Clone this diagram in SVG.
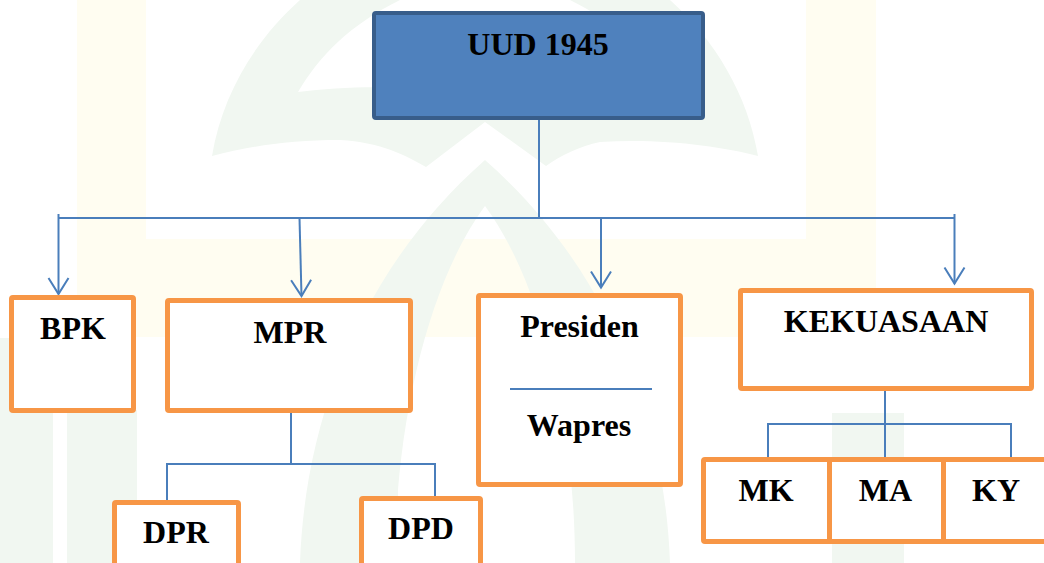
<svg xmlns="http://www.w3.org/2000/svg" width="1044" height="563" viewBox="0 0 1044 563">
<style>
.box{fill:#ffffff;stroke:#f79646;stroke-width:5}
.root{fill:#4f81bd;stroke:#385d8a;stroke-width:4}
.lbl{font-family:"Liberation Serif","Times New Roman",serif;font-weight:bold;font-size:32px;fill:#000;text-anchor:middle}
.ln{fill:none;stroke:#4a7ebb;stroke-width:2}
.wmg{fill:#f1f7f1}
.wmy{fill:#fffdf1}
</style>
<defs>
<marker id="arr" markerUnits="userSpaceOnUse" orient="auto" refX="0" refY="0" markerWidth="20" markerHeight="24" viewBox="-18 -12 20 24" style="overflow:visible">
<path d="M-16,-10 L0,0 L-16,10" fill="none" stroke="#4a7ebb" stroke-width="2"/>
</marker>
</defs>
<rect width="1044" height="563" fill="#ffffff"/>
<g id="watermark">
<path class="wmy" d="M77,0 H146 V239 H806 V0 H876 V337 H77 Z"/>
<path class="wmg" fill-rule="evenodd" d="M212,156 C222,95 255,40 300,0 H670 C715,40 748,95 758,156 C720,146 660,138 600,142 C580,146 560,156 546,166 L485,122 L426,167 C405,155 380,142 340,140 C290,140 250,146 212,156 Z M298,92 C320,55 350,25 400,0 H570 C620,25 650,55 672,92 C640,88 600,86 570,88 L485,118 L400,88 C370,86 330,88 298,92 Z"/>
<path class="wmg" fill-rule="evenodd" d="M300,563 C305,420 360,270 485,160 C610,270 665,420 670,563 Z M395,563 C395,420 430,280 485,206 C540,280 575,420 575,563 Z"/>
<rect class="wmg" x="0" y="338" width="53" height="225"/>
<rect class="wmg" x="67" y="410" width="70" height="153"/>
<rect class="wmg" x="327" y="415" width="71" height="148"/>
<rect class="wmg" x="832" y="413" width="72" height="150"/>
</g>
<g id="connectors">
<path class="ln" d="M539,120 V218"/>
<path class="ln" d="M58.5,218 H954.5"/>
<path class="ln" d="M58.5,214 V294" marker-end="url(#arr)"/>
<path class="ln" d="M299.5,218 L301.5,296" marker-end="url(#arr)"/>
<path class="ln" d="M601,218 V287.5" marker-end="url(#arr)"/>
<path class="ln" d="M954.5,214 V283.5" marker-end="url(#arr)"/>
<path class="ln" d="M291,413 V464"/>
<path class="ln" d="M167,500 V464 H435 V496"/>
<path class="ln" d="M885,391 V457"/>
<path class="ln" d="M768,457 V424 H1011 V457"/>
</g>
<g id="uud">
<rect class="root" x="374" y="13" width="329" height="105" rx="2"/>
<text class="lbl" x="538" y="55">UUD 1945</text>
</g>
<g id="bpk">
<rect class="box" x="11.5" y="297.5" width="122" height="113" rx="1.5"/>
<text class="lbl" x="73" y="339">BPK</text>
</g>
<g id="mpr">
<rect class="box" x="167.5" y="300.5" width="243" height="110" rx="1.5"/>
<text class="lbl" x="290" y="343">MPR</text>
</g>
<g id="dpr">
<rect class="box" x="114.5" y="502.5" width="124" height="80" rx="1.5"/>
<text class="lbl" x="176" y="543">DPR</text>
</g>
<g id="dpd">
<rect class="box" x="361.5" y="498.5" width="119" height="80" rx="1.5"/>
<text class="lbl" x="421" y="539">DPD</text>
</g>
<g id="presiden">
<rect class="box" x="478.5" y="295.5" width="202" height="189" rx="1.5"/>
<text class="lbl" x="579.5" y="337">Presiden</text>
<path class="ln" d="M510,389 H652"/>
<text class="lbl" x="579" y="436">Wapres</text>
</g>
<g id="kekuasaan">
<rect class="box" x="740.5" y="290.5" width="291" height="98" rx="1.5"/>
<text class="lbl" x="886" y="332">KEKUASAAN</text>
</g>
<g id="mk">
<rect class="box" x="703.5" y="459.5" width="126" height="82" rx="1.5"/>
<text class="lbl" x="766" y="501">MK</text>
</g>
<g id="ma">
<rect class="box" x="829.5" y="459.5" width="114" height="82"/>
<text class="lbl" x="885.5" y="501">MA</text>
</g>
<g id="ky">
<rect class="box" x="943.5" y="459.5" width="120" height="82"/>
<text class="lbl" x="996" y="501">KY</text>
</g>
</svg>
